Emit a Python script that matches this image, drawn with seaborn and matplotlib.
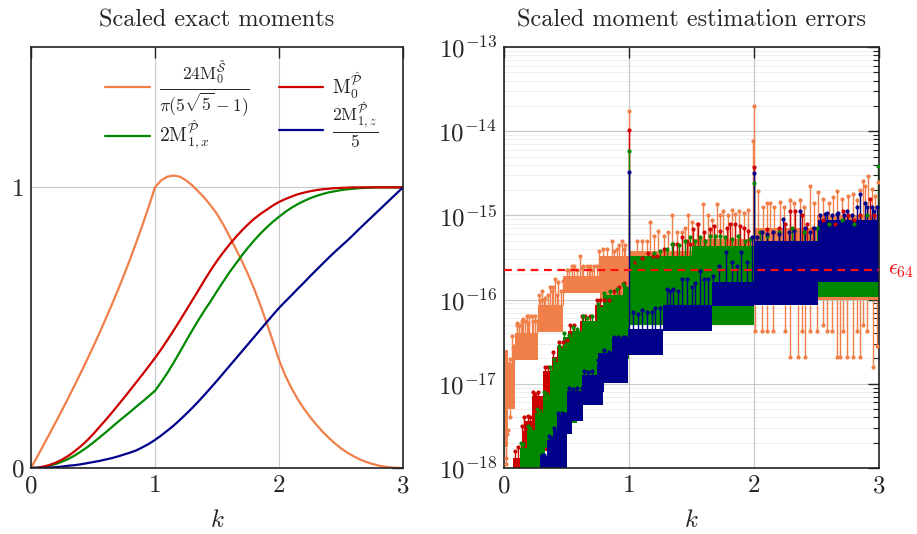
import numpy as np
import pandas as pd
import matplotlib
matplotlib.use("Agg")
import matplotlib.pyplot as plt
import seaborn as sns

# ---------------- data: left panel (scaled exact moments) ----------------
k_exact = [0.0, 0.05, 0.1, 0.15, 0.2, 0.25, 0.3, 0.35, 0.4, 0.45, 0.5, 0.55, 0.6, 0.65, 0.7, 0.75,
           0.8, 0.85, 0.9, 0.95, 1.0, 1.05, 1.1, 1.15, 1.2, 1.25, 1.3, 1.35, 1.4, 1.45, 1.5, 1.55,
           1.6, 1.65, 1.7, 1.75, 1.8, 1.85, 1.9, 1.95, 2.0, 2.05, 2.1, 2.15, 2.2, 2.25, 2.3, 2.35,
           2.4, 2.45, 2.5, 2.55, 2.6, 2.65, 2.7, 2.75, 2.8, 2.85, 2.9, 2.95, 3.0]
m_orange = [0.0, 0.040, 0.081, 0.122, 0.164, 0.206, 0.249, 0.293, 0.338, 0.384, 0.431, 0.479, 0.529,
            0.580, 0.633, 0.688, 0.745, 0.805, 0.867, 0.932, 1.0, 1.025, 1.038, 1.042, 1.038, 1.025,
            1.007, 0.985, 0.962, 0.935, 0.905, 0.868, 0.826, 0.782, 0.738, 0.690, 0.638, 0.580,
            0.518, 0.452, 0.385, 0.330, 0.285, 0.246, 0.212, 0.182, 0.155, 0.130, 0.108, 0.088,
            0.070, 0.055, 0.042, 0.031, 0.022, 0.015, 0.009, 0.005, 0.002, 0.0005, 0.0]
m_red = [0.0, 0.001, 0.005, 0.011, 0.019, 0.030, 0.043, 0.059, 0.077, 0.097, 0.120, 0.145, 0.170,
         0.196, 0.223, 0.250, 0.278, 0.306, 0.334, 0.363, 0.392, 0.423, 0.456, 0.490, 0.525, 0.561,
         0.597, 0.633, 0.670, 0.705, 0.738, 0.768, 0.796, 0.822, 0.846, 0.868, 0.888, 0.905, 0.920,
         0.935, 0.948, 0.958, 0.967, 0.975, 0.981, 0.986, 0.990, 0.993, 0.995, 0.997, 0.998, 0.999,
         1.0, 1.0, 1.0, 1.0, 1.0, 1.0, 1.0, 1.0, 1.0]
m_green = [0.0, 0.001, 0.0036, 0.008, 0.0144, 0.0225, 0.032, 0.044, 0.058, 0.073, 0.090, 0.108,
           0.126, 0.145, 0.164, 0.182, 0.200, 0.219, 0.237, 0.256, 0.275, 0.306, 0.339, 0.375, 0.413,
           0.452, 0.490, 0.527, 0.562, 0.595, 0.630, 0.664, 0.697, 0.727, 0.757, 0.785, 0.811, 0.835,
           0.857, 0.877, 0.895, 0.912, 0.927, 0.940, 0.951, 0.961, 0.969, 0.976, 0.982, 0.986, 0.990,
           0.993, 0.995, 0.997, 0.998, 0.999, 1.0, 1.0, 1.0, 1.0, 1.0]
m_blue = [0.0, 0.0001, 0.0005, 0.0015, 0.003, 0.005, 0.008, 0.010, 0.013, 0.017, 0.021, 0.025, 0.030,
          0.035, 0.041, 0.048, 0.055, 0.063, 0.074, 0.086, 0.100, 0.116, 0.133, 0.151, 0.171, 0.192,
          0.214, 0.237, 0.261, 0.286, 0.311, 0.337, 0.363, 0.389, 0.415, 0.441, 0.467, 0.493, 0.519,
          0.545, 0.570, 0.593, 0.615, 0.638, 0.660, 0.683, 0.705, 0.727, 0.749, 0.770, 0.790, 0.810,
          0.831, 0.853, 0.874, 0.895, 0.916, 0.937, 0.958, 0.979, 1.0]

# ---------------- data: right panel (log10 of errors) ----------------
# error bands: start k, end k, low level, high level (log10)
o_k0 = [0.008, 0.035, 0.09, 0.275, 0.475, 0.77, 1.0, 1.5, 2.0, 2.5]
o_k1 = [0.035, 0.09, 0.275, 0.475, 0.77, 1.0, 1.5, 2.0, 2.5, 3.0]
o_lo = [-17.75, -17.3, -16.72, -16.38, -15.92, -16.0, -16.07, -16.07, -16.07, -16.0]
o_hi = [-16.6, -16.75, -16.4, -16.07, -15.72, -15.48, -15.42, -15.28, -15.15, -15.0]
o_sk = [0.012, 0.02, 0.045, 0.061, 0.07, 0.12, 0.155, 0.18, 0.2, 0.22, 0.245, 0.301, 0.35, 0.368,
        0.39, 0.408, 0.435, 0.455, 0.50, 0.541, 0.56, 0.608, 0.635, 0.66, 0.69, 0.72, 0.741, 0.79,
        0.82, 0.861, 0.9, 0.941, 0.97, 1.0, 1.06, 1.1, 1.14, 1.168, 1.2, 1.235, 1.28, 1.31, 1.341,
        1.38, 1.421, 1.45, 1.475, 1.5, 1.541, 1.595, 1.63, 1.66, 1.701, 1.73, 1.755, 1.79, 1.82,
        1.85, 1.88, 1.92, 1.95, 1.995, 2.0, 2.035, 2.07, 2.1, 2.128, 2.16, 2.208, 2.24, 2.288,
        2.32, 2.368, 2.4, 2.448, 2.48, 2.01, 2.06, 2.10, 2.15, 2.25, 2.29, 2.35, 2.38, 2.41, 2.45,
        2.50, 2.515, 2.55, 2.6, 2.63, 2.661, 2.7, 2.755, 2.79, 2.821, 2.85, 2.875, 2.888, 2.915,
        2.941, 2.968, 2.99, 2.58, 2.66, 2.69, 2.74, 2.79, 2.85, 2.87, 2.95, 2.98, 2.55, 2.62, 2.71,
        2.82, 2.9, 0.03, 0.05, 0.1, 0.14, 0.26, 0.29, 0.32, 0.42, 0.58, 0.68, 0.015, 0.025, 0.08,
        0.105, 0.135, 0.17, 0.19, 0.23, 0.28, 0.33, 0.38, 0.47, 0.52, 0.62, 0.7, 0.76, 0.88, 0.92,
        0.96]
o_sv = [-17.88, -16.75, -16.7, -16.43, -16.58, -16.3, -16.23, -16.19, -16.19, -16.19, -16.19, -15.9,
        -15.95, -15.85, -15.85, -15.75, -15.79, -15.9, -15.65, -15.6, -15.6, -15.48, -15.6, -15.6,
        -15.6, -15.6, -15.6, -15.4, -15.4, -15.3, -15.4, -15.3, -15.35, -13.76, -15.3, -15.3, -15.3,
        -15.08, -15.25, -15.18, -15.25, -15.2, -15.0, -15.2, -15.2, -15.15, -15.0, -15.08, -15.1,
        -14.87, -15.0, -15.05, -14.87, -15.0, -14.95, -15.0, -14.93, -14.98, -14.95, -14.97, -14.93,
        -14.12, -13.7, -14.71, -14.9, -14.85, -14.85, -14.9, -14.84, -14.9, -14.82, -14.85, -14.82,
        -14.9, -14.65, -14.85, -16.37, -16.37, -16.37, -16.37, -16.37, -16.68, -16.68, -16.37,
        -16.68, -16.37, -16.37, -14.72, -14.8, -14.85, -14.78, -14.71, -14.8, -14.77, -14.75, -14.82,
        -14.7, -14.59, -14.65, -14.53, -14.69, -14.77, -14.6, -16.37, -16.68, -16.68, -16.68, -16.68,
        -16.68, -16.3, -16.8, -16.55, -16.3, -16.37, -16.37, -16.37, -16.37, -17.55, -17.4, -16.28,
        -16.25, -16.25, -16.0, -16.0, -15.95, -15.65, -15.62, -17.95, -17.6, -16.55, -16.3, -16.3,
        -16.25, -16.28, -16.25, -15.95, -15.98, -15.9, -15.78, -15.65, -15.62, -15.65, -15.42,
        -15.42, -15.35, -15.4]

r_k0 = [0.075, 0.141, 0.168, 0.221, 0.315, 0.381, 0.421, 0.515, 0.608, 0.728, 1.0, 1.5, 2.0, 2.5]
r_k1 = [0.15, 0.25, 0.30, 0.40, 0.45, 0.55, 0.62, 0.75, 0.85, 1.0, 1.5, 2.0, 2.5, 3.0]
r_lo = [-18.2, -18.2, -18.0, -17.8, -17.5, -17.3, -17.1, -16.9, -16.75, -16.6, -16.3, -16.3, -16.07,
        -15.97]
r_hi = [-17.88, -17.56, -17.44, -17.15, -16.85, -16.68, -16.55, -16.37, -16.25, -16.07, -15.5, -15.4,
        -15.35, -15.25]
r_sk = [0.09, 0.11, 0.145, 0.16, 0.19, 0.21, 0.23, 0.25, 0.27, 0.33, 0.35, 0.39, 0.44, 0.47, 0.5,
        0.53, 0.56, 0.62, 0.65, 0.69, 0.74, 0.77, 0.8, 0.84, 0.88, 0.92, 0.96, 1.0, 1.05, 1.1, 1.15,
        1.195, 1.22, 1.28, 1.355, 1.38, 1.42, 1.46, 1.488, 1.515, 1.555, 1.6, 1.648, 1.68, 1.728,
        1.78, 1.808, 1.848, 1.888, 1.92, 1.955, 2.0, 2.05, 2.101, 2.15, 2.2, 2.25, 2.288, 2.328,
        2.381, 2.42, 2.47, 2.555, 2.6, 2.65, 2.715, 2.75, 2.8, 2.85, 2.928, 2.96]
r_sv = [-17.8, -17.75, -17.5, -17.4, -17.38, -17.4, -17.1, -17.12, -17.1, -16.8, -16.8, -16.62, -16.5,
        -16.5, -16.48, -16.3, -16.3, -16.2, -16.2, -16.2, -16.0, -16.0, -16.0, -16.0, -15.9, -15.85,
        -15.8, -13.98, -15.55, -15.5, -15.45, -15.48, -15.48, -15.4, -15.34, -15.34, -15.26, -15.3,
        -15.34, -15.16, -15.1, -15.2, -15.16, -15.12, -15.18, -15.15, -15.1, -15.1, -15.12, -15.15,
        -15.18, -14.43, -15.2, -15.16, -15.2, -15.15, -15.1, -14.95, -14.95, -15.0, -15.1, -15.15,
        -15.05, -15.1, -15.1, -14.95, -15.0, -15.05, -15.0, -14.81, -15.0]

g_k0 = [0.128, 0.181, 0.248, 0.315, 0.368, 0.395, 0.435, 0.475, 0.541, 0.621, 0.741, 0.795, 0.955,
        1.0, 1.5, 2.0, 2.5]
g_k1 = [0.25, 0.33, 0.45, 0.45, 0.58, 0.58, 0.70, 0.70, 0.77, 0.77, 1.0, 1.0, 1.0, 1.5, 2.0, 2.5,
        3.0]
g_lo = [-18.2, -18.0, -17.76, -17.6, -17.47, -17.3, -17.14, -17.0, -16.9, -16.8, -16.7, -16.46,
        -16.3, -16.3, -16.3, -16.07, -15.97]
g_hi = [-17.76, -17.55, -17.35, -17.14, -16.84, -16.74, -16.58, -16.44, -16.37, -16.25, -16.09,
        -15.95, -15.85, -15.48, -15.36, -15.3, -15.2]
g_sk = [0.135, 0.15, 0.19, 0.21, 0.26, 0.29, 0.32, 0.34, 0.37, 0.4, 0.44, 0.48, 0.52, 0.55, 0.58,
        0.63, 0.66, 0.7, 0.75, 0.8, 0.85, 0.9, 0.955, 0.968, 1.0, 1.02, 1.061, 1.09, 1.141, 1.2,
        1.25, 1.3, 1.341, 1.4, 1.45, 1.488, 1.53, 1.568, 1.61, 1.648, 1.69, 1.728, 1.768, 1.82,
        1.87, 1.93, 1.97, 2.0, 2.05, 2.1, 2.2, 2.3, 2.4, 2.5, 2.6, 2.7, 2.8, 2.9, 2.995]
g_sv = [-17.7, -17.72, -17.5, -17.52, -17.3, -17.32, -17.1, -17.12, -16.8, -16.7, -16.55, -16.4,
        -16.42, -16.33, -16.35, -16.2, -16.22, -16.2, -16.05, -15.92, -15.9, -15.88, -15.82, -15.85,
        -14.24, -15.6, -15.54, -15.6, -15.56, -15.45, -15.42, -15.4, -15.34, -15.35, -15.3, -15.26,
        -15.3, -15.26, -15.3, -15.24, -15.25, -15.24, -15.26, -15.28, -15.25, -15.3, -15.28, -14.62,
        -15.2, -15.25, -15.2, -15.15, -15.2, -15.15, -15.1, -15.05, -15.1, -15.0, -14.41]

b_k0 = [0.29, 0.34, 0.395, 0.42, 0.50, 0.62, 0.74, 0.755, 0.86, 0.995, 1.275, 1.66, 2.0, 2.51]
b_k1 = [0.41, 0.50, 0.50, 0.54, 0.635, 0.795, 0.80, 0.995, 0.995, 1.275, 1.66, 2.0, 2.51, 3.0]
b_lo = [-18.2, -18.0, -17.8, -17.6, -17.44, -17.25, -17.1, -16.99, -16.8, -16.66, -16.37, -16.08,
        -16.07, -15.79]
b_hi = [-17.86, -17.67, -17.55, -17.37, -17.08, -16.9, -16.76, -16.64, -16.46, -16.35, -16.07, -15.79,
        -15.3, -15.05]
b_sk = [0.3, 0.32, 0.36, 0.38, 0.40, 0.43, 0.46, 0.49, 0.52, 0.55, 0.58, 0.62, 0.64, 0.67, 0.70,
        0.75, 0.78, 0.80, 0.84, 0.88, 0.91, 0.95, 0.97, 1.0, 1.035, 1.07, 1.1, 1.14, 1.18, 1.21,
        1.248, 1.301, 1.33, 1.355, 1.39, 1.421, 1.461, 1.5, 1.53, 1.568, 1.6, 1.635, 1.675, 1.72,
        1.775, 1.82, 1.86, 1.893, 1.94, 1.981, 2.0, 2.027, 2.06, 2.1, 2.15, 2.2, 2.235, 2.28, 2.32,
        2.368, 2.41, 2.45, 2.48, 2.53, 2.568, 2.581, 2.62, 2.661, 2.675, 2.72, 2.741, 2.78, 2.82,
        2.848, 2.888, 2.901, 2.941, 2.96, 2.981]
b_sv = [-17.84, -17.84, -17.62, -17.64, -17.52, -17.35, -17.35, -17.36, -17.05, -17.06, -17.05,
        -17.05, -16.85, -16.86, -16.85, -16.72, -16.74, -16.6, -16.62, -16.44, -16.45, -16.44,
        -16.45, -14.48, -16.15, -16.17, -16.12, -16.15, -16.15, -16.1, -16.1, -15.87, -15.9, -15.87,
        -15.9, -15.75, -15.75, -15.85, -15.8, -15.66, -15.75, -15.75, -15.72, -15.6, -15.44, -15.55,
        -15.6, -15.44, -15.55, -15.26, -14.5, -15.26, -15.2, -15.22, -15.2, -15.22, -15.04, -15.2,
        -15.18, -14.95, -15.15, -15.2, -15.15, -15.0, -14.98, -14.97, -15.0, -14.98, -14.97, -15.0,
        -14.95, -15.0, -14.9, -14.75, -14.85, -14.9, -14.9, -14.95, -14.9]

eps64 = 2.0 ** -52

C_ORANGE = "#f07f4a"
C_RED = "#cc0000"
C_GREEN = "#008800"
C_BLUE = "#00008b"

# ---------------- style ----------------
sns.set_theme(style="white")
plt.rcParams["font.family"] = ["cmr10", "DejaVu Serif"]
plt.rcParams["mathtext.fontset"] = "cm"
plt.rcParams["axes.unicode_minus"] = False
plt.rcParams["axes.formatter.use_mathtext"] = True

fig = plt.figure(figsize=(9.17, 5.34), dpi=100)
axL = fig.add_axes([31 / 917, 66 / 534, 372 / 917, 421 / 534])
axR = fig.add_axes([504 / 917, 66 / 534, 375 / 917, 421 / 534])


def style_axes(ax):
    for s in ax.spines.values():
        s.set_color("#222222")
        s.set_linewidth(1.2)
    ax.tick_params(which="major", direction="in", length=8, width=1.0, color="#222222",
                   top=True, right=True, labelsize=18, pad=5)
    ax.tick_params(which="minor", direction="in", length=4.5, width=0.8, color="#222222",
                   top=False, right=True)


# ---------------- left panel ----------------
series = [(m_orange, C_ORANGE, r"$\frac{24\mathrm{M}_0^{\tilde{\mathcal{S}}}}{\pi(5\sqrt{5}-1)}$"),
          (m_green, C_GREEN, r"$2\mathrm{M}_{1,x}^{\hat{\mathcal{P}}}$"),
          (m_red, C_RED, r"$\mathrm{M}_0^{\hat{\mathcal{P}}}$"),
          (m_blue, C_BLUE, r"$\frac{2\mathrm{M}_{1,z}^{\hat{\mathcal{P}}}}{5}$")]
for vals, col, lab in series:
    df = pd.DataFrame({"k": k_exact, "v": vals})
    sns.lineplot(data=df, x="k", y="v", ax=axL, color=col, lw=1.6, label=lab)

axL.set_xlim(0, 3)
axL.set_ylim(0, 1.5)
axL.set_xticks([0, 1, 2, 3])
axL.set_xticklabels(["0", "1", "2", "3"])
axL.set_yticks([0, 1])
axL.set_yticklabels(["0", "1"])
axL.grid(True, color="#c8c8c8", lw=0.8)
axL.set_axisbelow(True)
style_axes(axL)
axL.set_xlabel(r"$k$", fontsize=18, labelpad=9)
axL.set_ylabel("")
axL.set_title("Scaled exact moments", fontsize=17.5, pad=15)
leg = axL.legend(loc="upper left", bbox_to_anchor=(0.152, 1.012), ncol=2, frameon=False,
                 fontsize=14, handlelength=2.3, columnspacing=1.5, labelspacing=0.0,
                 handletextpad=0.45)
for txt, fs in zip(leg.get_texts(), [18, 14, 14, 18]):
    txt.set_fontsize(fs)

# ---------------- right panel ----------------
axR.set_yscale("log")
axR.set_xlim(0, 3)
axR.set_ylim(1e-18, 1e-13)


def draw_series(ax, k0, k1, lo, hi, sk, sv, col):
    k0 = np.asarray(k0); k1 = np.asarray(k1)
    lo = 10.0 ** np.asarray(lo); hi = 10.0 ** np.asarray(hi)
    ax.bar(k0, hi - lo, bottom=lo, width=k1 - k0, align="edge", color=col, linewidth=0, zorder=2)
    tips = 10.0 ** np.asarray(sv)
    bases = []
    for k, t in zip(sk, tips):
        m = (k0 <= k) & (k <= k1)
        if m.any():
            h = hi[m].max(); l = lo[m].min()
            bases.append(h if t > h else (l if t < l else t))
        else:
            bases.append(t)
    ax.vlines(sk, bases, tips, color=col, lw=1.0, zorder=2)
    sns.scatterplot(x=sk, y=tips, ax=ax, color=col, s=9, linewidth=0, zorder=3, legend=False)


draw_series(axR, o_k0, o_k1, o_lo, o_hi, o_sk, o_sv, C_ORANGE)
draw_series(axR, r_k0, r_k1, r_lo, r_hi, r_sk, r_sv, C_RED)
draw_series(axR, g_k0, g_k1, g_lo, g_hi, g_sk, g_sv, C_GREEN)
draw_series(axR, b_k0, b_k1, b_lo, b_hi, b_sk, b_sv, C_BLUE)

axR.axhline(eps64, color="#ff1010", ls=(0, (3.5, 2.5)), lw=1.6, zorder=5)
axR.text(3.075, eps64, r"$\epsilon_{64}$", color="#ff1010", fontsize=16, va="center", ha="left",
         clip_on=False)

axR.set_xticks([0, 1, 2, 3])
axR.set_xticklabels(["0", "1", "2", "3"])
axR.set_yticks([1e-18, 1e-17, 1e-16, 1e-15, 1e-14, 1e-13])
axR.set_yticklabels([r"$10^{-18}$", r"$10^{-17}$", r"$10^{-16}$", r"$10^{-15}$", r"$10^{-14}$",
                     r"$10^{-13}$"])
axR.yaxis.set_minor_locator(matplotlib.ticker.LogLocator(base=10, subs=np.arange(2, 10)))
axR.yaxis.set_minor_formatter(matplotlib.ticker.NullFormatter())
axR.grid(True, which="major", color="#c8c8c8", lw=0.8)
for dec in range(-18, -13):
    for m in range(2, 10):
        axR.axhline(m * 10.0 ** dec, color="#eeeeee", lw=0.7, zorder=0.1)
axR.set_axisbelow(True)
style_axes(axR)
axR.set_xlabel(r"$k$", fontsize=18, labelpad=9)
axR.set_ylabel("")
axR.set_title("Scaled moment estimation errors", fontsize=17.5, pad=15)

fig.savefig("out.png", dpi=100)
